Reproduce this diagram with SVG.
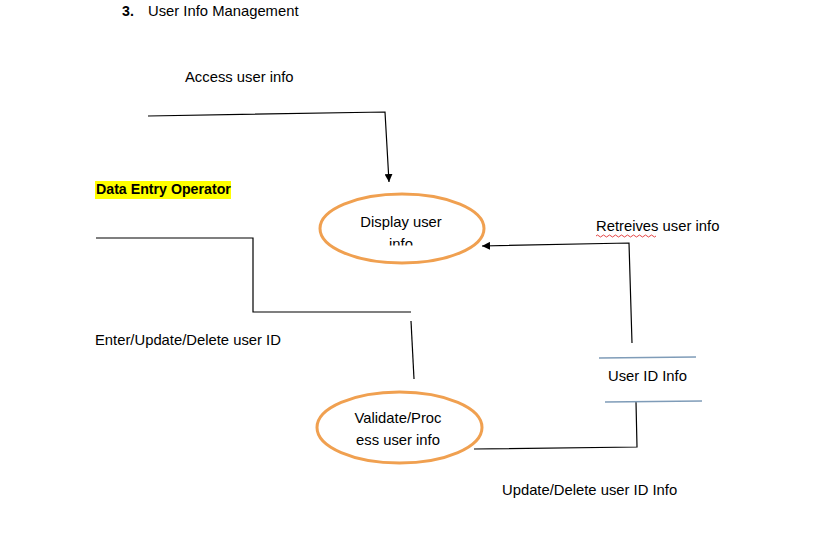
<svg xmlns="http://www.w3.org/2000/svg" width="813" height="543" viewBox="0 0 813 543">
<defs>
<style>
.t{font-family:"Liberation Sans",Arial,sans-serif;font-size:14.8px;fill:#000}
.b{font-weight:bold;font-size:14.2px}
.c{text-anchor:middle}
.ln{fill:none;stroke:#000;stroke-width:1.2}
.ds{fill:none;stroke:#7f9cb8;stroke-width:1.3}
.el{fill:#fff;stroke:#f0a050;stroke-width:3}
</style>
<marker id="ah" viewBox="0 0 10 10" refX="10" refY="5" markerWidth="8" markerHeight="8" markerUnits="userSpaceOnUse" orient="auto">
<path d="M0,0 L10,5 L0,10 z" fill="#000"/>
</marker>
<clipPath id="clip1"><rect x="300" y="190" width="200" height="55.5"/></clipPath>
</defs>
<rect width="813" height="543" fill="#fff"/>
<g id="title">
<text class="t b" x="122" y="16">3.</text>
<text class="t" x="148" y="16">User Info Management</text>
</g>
<g id="connectors">
<polyline class="ln" points="148,116 385,112 389,182" marker-end="url(#ah)"/>
<polyline class="ln" points="96,238 253,238 253,312 411,312"/>
<line class="ln" x1="411" y1="321" x2="414" y2="379"/>
<polyline class="ln" points="632,343 629,243 482,246" marker-end="url(#ah)"/>
<polyline class="ln" points="474,449 637,447 636,402"/>
</g>
<g id="labels">
<text class="t" x="185" y="82">Access user info</text>
<text class="t" x="95" y="345">Enter/Update/Delete user ID</text>
<text class="t" x="596" y="231">Retreives user info</text>
<path d="M596,236 q1.5,-2 3,0 t3,0 t3,0 t3,0 t3,0 t3,0 t3,0 t3,0 t3,0 t3,0 t3,0 t3,0 t3,0 t3,0 t3,0 t3,0 t3,0 t3,0 t3,0 t3,0" fill="none" stroke="#e03030" stroke-width="0.9"/>
<text class="t" x="502" y="495">Update/Delete user ID Info</text>
</g>
<g id="data-entry-operator">
<rect x="95" y="181" width="136" height="18" fill="#ffff00"/>
<text class="t b" x="96" y="194">Data Entry Operator</text>
</g>
<g id="display-user-info">
<ellipse class="el" cx="402" cy="228.5" rx="82" ry="34.5"/>
<text class="t c" x="401" y="227">Display user</text>
<text class="t c" x="401" y="249" clip-path="url(#clip1)">info</text>
</g>
<g id="validate-process">
<ellipse class="el" cx="399.5" cy="427.5" rx="82.5" ry="35.5"/>
<text class="t c" x="398" y="423">Validate/Proc</text>
<text class="t c" x="398" y="445">ess user info</text>
</g>
<g id="user-id-info">
<line class="ds" x1="599" y1="358" x2="696" y2="357"/>
<line class="ds" x1="605" y1="402" x2="702" y2="401"/>
<text class="t" x="608" y="381">User ID Info</text>
</g>
</svg>
